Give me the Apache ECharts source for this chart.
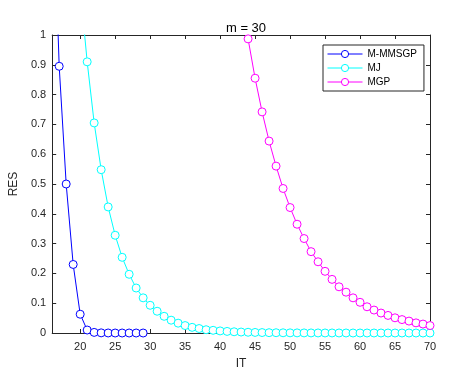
<!DOCTYPE html>
<html><head><meta charset="utf-8">
<script src="https://cdn.jsdelivr.net/npm/echarts@6/dist/echarts.min.js"></script>
<style>html,body{margin:0;padding:0;background:#fff}#c{width:461px;height:375px}</style>
</head><body><div id="c"></div>
<script>
var titleText = 'm = 30';
var xTicks = [20, 25, 30, 35, 40, 45, 50, 55, 60, 65, 70];
var yTicks = [0, 0.1, 0.2, 0.3, 0.4, 0.5, 0.6, 0.7, 0.8, 0.9, 1];
var names = ['M-MMSGP', 'MJ', 'MGP'];
var itMM = [16,17,18,19,20,21,22,23,24,25,26,27,28,29];
var resMM = [1.59,0.895,0.50,0.23,0.063,0.010,0.002,0.0005,0.0001,0,0,0,0,0];
var itMJ = [20,21,22,23,24,25,26,27,28,29,30,31,32,33,34,35,36,37,38,39,40,41,42,43,44,45,46,47,48,49,50,51,52,53,54,55,56,57,58,59,60,61,62,63,64,65,66,67,68,69,70];
var resMJ = [1.16,0.91,0.705,0.548,0.423,0.328,0.254,0.197,0.151,0.118,0.093,0.073,0.056,0.043,0.033,0.025,0.019,0.015,0.011,0.009,0.007,0.0053,0.0041,0.0032,0.0025,0.0019,0.0015,0.0011,0.0009,0.0007,0.0005,0.0004,0.0003,0.00025,0.0002,0.00015,0.00012,0.0001,0.00007,0.00005,0.00004,0.00003,0.00002,0.00002,0.00001,0.00001,0.00001,0,0,0,0];
var itMGP = [44,45,46,47,48,49,50,51,52,53,54,55,56,57,58,59,60,61,62,63,64,65,66,67,68,69,70];
var resMGP = [0.987,0.855,0.742,0.644,0.560,0.485,0.421,0.365,0.317,0.273,0.239,0.207,0.180,0.155,0.137,0.118,0.103,0.088,0.077,0.067,0.059,0.051,0.045,0.040,0.034,0.030,0.025];
var colors = ['#0000ff', '#00ffff', '#ff00ff'];

function pairs(xs, ys){ return xs.map(function(x,i){return [x, ys[i]];}); }
var FONT = 'Liberation Sans, Arial, Helvetica, sans-serif';
var AX = '#262626';
function mkSeries(i, xs, ys){
  return {
    name: names[i], type: 'line', data: pairs(xs, ys),
    symbol: 'circle', symbolSize: 8, showAllSymbol: true, clip: true,
    lineStyle: {color: colors[i], width: 1},
    itemStyle: {color: '#ffffff', borderColor: colors[i], borderWidth: 1},
    emphasis: {disabled: true}, animation: false, z: 2 + i
  };
}
var chart = echarts.init(document.getElementById('c'), null, {renderer: 'canvas'});
chart.setOption({
  animation: false,
  backgroundColor: '#ffffff',
  title: {text: titleText, left: 241, top: 17, textAlign: 'center',
    textStyle: {fontFamily: FONT, fontSize: 13, fontWeight: 'normal', color: '#000'}},
  grid: {left: 50, top: 35, width: 380, height: 300, containLabel: false},
  legend: {
    orient: 'vertical', left: 323, top: 45, data: names,
    itemWidth: 35, itemHeight: 9, itemGap: 4, itemTextGap: 3,
    padding: [4, 7, 4, 4], borderColor: AX, borderWidth: 1, backgroundColor: '#fff',
    lineStyle: {width: 1}, itemStyle: {borderWidth: 1, color: '#fff'},
    textStyle: {fontFamily: FONT, fontSize: 10, color: '#000'}
  },
  xAxis: [{
    type: 'value', min: 16, max: 70, position: 'bottom',
    name: 'IT', nameLocation: 'middle', nameGap: 25,
    nameTextStyle: {fontFamily: FONT, fontSize: 12, color: AX},
    axisLine: {show: true, onZero: false, lineStyle: {color: AX, width: 1}},
    axisTick: {show: true, inside: true, length: 4, customValues: xTicks, lineStyle: {color: AX}},
    axisLabel: {show: true, customValues: xTicks, margin: 8, fontFamily: FONT, fontSize: 11, color: AX},
    splitLine: {show: false}
  }, {
    type: 'value', min: 16, max: 70, position: 'top',
    axisLine: {show: true, onZero: false, lineStyle: {color: AX, width: 1}},
    axisTick: {show: true, inside: true, length: 4, customValues: xTicks, lineStyle: {color: AX}},
    axisLabel: {show: false}, splitLine: {show: false}
  }],
  yAxis: [{
    type: 'value', min: 0, max: 1, interval: 0.1, position: 'left',
    name: 'RES', nameLocation: 'middle', nameGap: 26,
    nameTextStyle: {fontFamily: FONT, fontSize: 12, color: AX},
    axisLine: {show: true, onZero: false, lineStyle: {color: AX, width: 1}},
    axisTick: {show: true, inside: true, length: 4, customValues: yTicks, lineStyle: {color: AX}},
    axisLabel: {show: true, customValues: yTicks, margin: 6, fontFamily: FONT, fontSize: 11, color: AX,
      formatter: function(v){ return String(Math.round(v*10)/10); }},
    splitLine: {show: false}
  }, {
    type: 'value', min: 0, max: 1, interval: 0.1, position: 'right',
    axisLine: {show: true, onZero: false, lineStyle: {color: AX, width: 1}},
    axisTick: {show: true, inside: true, length: 4, customValues: yTicks, lineStyle: {color: AX}},
    axisLabel: {show: false}, splitLine: {show: false}
  }],
  series: [mkSeries(0, itMM, resMM), mkSeries(1, itMJ, resMJ), mkSeries(2, itMGP, resMGP)]
});
</script></body></html>
